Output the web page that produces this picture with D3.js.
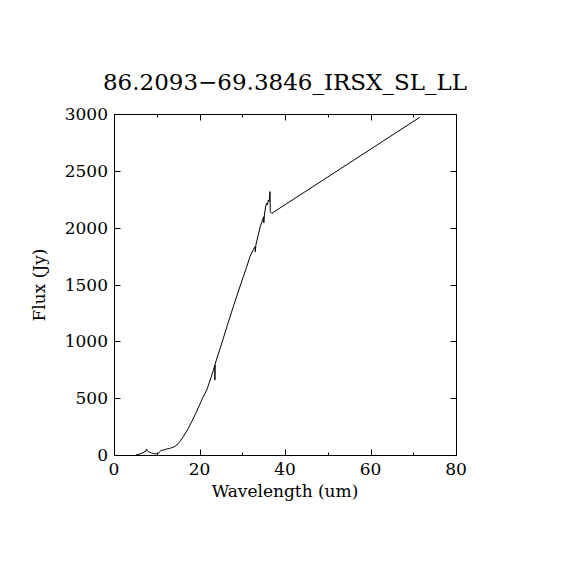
<!DOCTYPE html>
<html>
<head>
<meta charset="utf-8">
<script src="https://cdn.jsdelivr.net/npm/d3@7"></script>
<style>
  body { margin: 0; background: #fff; }
  text { font-family: "DejaVu Serif", serif; fill: #000; }
</style>
</head>
<body>
<div id="chart"></div>
<script>
// spectrum (wavelength in um, flux in Jy)
var wavelength = [5.2, 5.8, 6.5, 7.0, 7.25, 7.4, 7.6, 7.8, 8.0, 8.4, 8.8, 9.2, 9.6, 10.0, 10.4,
  10.8, 11.1, 11.5, 12.3, 13.0, 13.5, 14.2, 14.7, 15.4, 16.2, 17.0, 17.4, 18.2, 19.3, 20.0,
  20.7, 21.7, 22.5, 23.2, 23.6, 23.6, 23.65, 24.8, 25.6, 26.5, 27.9, 29.0, 30.25, 31.0, 31.8,
  32.5, 33.0, 33.05, 33.2, 34.2, 34.6, 35.0, 35.05, 35.2, 35.5, 35.7, 35.9, 36.1, 36.3, 36.5,
  36.55, 36.9, 71.6];
var flux = [2, 6, 15, 22, 35, 28, 53, 38, 30, 22, 18, 14, 10, 12, 16,
  30, 44, 42, 53, 58, 64, 75, 88, 117, 161, 210, 235, 295, 380, 440,
  499, 572, 660, 740, 790, 660, 800, 935, 1030, 1140, 1305, 1430, 1569, 1650, 1745,
  1800, 1833, 1788, 1850, 2008, 2050, 2096, 2043, 2120, 2190, 2214, 2200, 2243, 2230, 2317,
  2140, 2126, 2973];

var xTicks = [0, 20, 40, 60, 80];
var xMinorTicks = [10, 30, 50, 70];
var yTicks = [0, 500, 1000, 1500, 2000, 2500, 3000];

var title = '86.2093\u221269.3846_IRSX_SL_LL';

const W = 570, H = 570;
const pLeft = 114, pRight = 456, pTop = 114, pBottom = 455;

var svg = d3.select('#chart')
  .append('svg')
  .attr('width', W)
  .attr('height', H);

var x = d3.scaleLinear().domain([0, 80]).range([pLeft, pRight]);
var y = d3.scaleLinear().domain([0, 3000]).range([pBottom, pTop]);

// frame
svg.append('rect')
  .attr('x', pLeft + 0.5)
  .attr('y', pTop + 0.5)
  .attr('width', pRight - pLeft)
  .attr('height', pBottom - pTop)
  .attr('fill', 'none')
  .attr('stroke', '#000')
  .attr('stroke-width', 1);

function tickLines(vals, len) {
  // bottom and top, pointing inward
  svg.selectAll(null).data(vals).enter().append('line')
    .attr('x1', (d) => Math.round(x(d)) + 0.5).attr('x2', (d) => Math.round(x(d)) + 0.5)
    .attr('y1', pBottom + 0.5).attr('y2', pBottom + 0.5 - len)
    .attr('stroke', '#000');
  svg.selectAll(null).data(vals).enter().append('line')
    .attr('x1', (d) => Math.round(x(d)) + 0.5).attr('x2', (d) => Math.round(x(d)) + 0.5)
    .attr('y1', pTop + 0.5).attr('y2', pTop + 0.5 + len)
    .attr('stroke', '#000');
}
tickLines(xTicks, 6);
tickLines(xMinorTicks, 3);

svg.selectAll(null).data(yTicks).enter().append('line')
  .attr('x1', pLeft + 0.5).attr('x2', pLeft + 6.5)
  .attr('y1', (d) => Math.round(y(d)) + 0.5).attr('y2', (d) => Math.round(y(d)) + 0.5)
  .attr('stroke', '#000');
svg.selectAll(null).data(yTicks).enter().append('line')
  .attr('x1', pRight + 0.5).attr('x2', pRight - 5.5)
  .attr('y1', (d) => Math.round(y(d)) + 0.5).attr('y2', (d) => Math.round(y(d)) + 0.5)
  .attr('stroke', '#000');

// tick labels
svg.selectAll(null).data(xTicks).enter().append('text')
  .attr('x', (d) => x(d))
  .attr('y', 475)
  .attr('text-anchor', 'middle')
  .attr('font-size', 17)
  .text((d) => d);

svg.selectAll(null).data(yTicks).enter().append('text')
  .attr('x', 108)
  .attr('y', (d) => y(d) + 6)
  .attr('text-anchor', 'end')
  .attr('font-size', 17)
  .text((d) => d);

// axis titles
svg.append('text')
  .attr('x', 285).attr('y', 497)
  .attr('text-anchor', 'middle')
  .attr('font-size', 17)
  .text('Wavelength (um)');

svg.append('text')
  .attr('transform', 'translate(45,285) rotate(-90)')
  .attr('text-anchor', 'middle')
  .attr('font-size', 17)
  .text('Flux (Jy)');

svg.append('text')
  .attr('x', 285).attr('y', 90)
  .attr('text-anchor', 'middle')
  .attr('font-size', 23)
  .text(title);

// spectrum
var pts = wavelength.map((w, i) => [w, flux[i]]);
var line = d3.line().x((d) => x(d[0])).y((d) => y(d[1]));
svg.append('path')
  .datum(pts)
  .attr('d', line)
  .attr('fill', 'none')
  .attr('stroke', '#000')
  .attr('stroke-width', 1);
</script>
</body>
</html>
